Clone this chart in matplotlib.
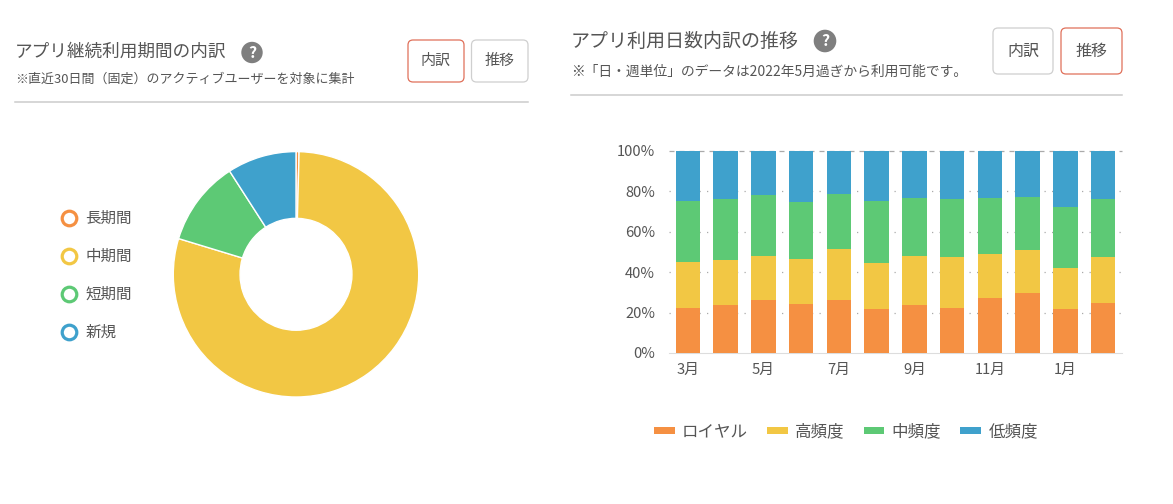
import matplotlib
matplotlib.use('Agg')
import matplotlib.pyplot as plt
from matplotlib.lines import Line2D
from matplotlib.patches import Circle, FancyBboxPatch, Patch
import numpy as np

plt.rcParams['font.family'] = ['Noto Sans CJK JP', 'DejaVu Sans']

W, H = 1173, 504
TEXT = '#555555'
ORANGE = '#F59042'
YELLOW = '#F2C744'
GREEN = '#5DC975'
BLUE = '#3FA1CC'
COLORS = [ORANGE, YELLOW, GREEN, BLUE]

# donut
donut_labels = ['長期間', '中期間', '短期間', '新規']
donut_values = [0.4, 79.3, 11.2, 9.1]

# stacked bars
months = ['3月', '4月', '5月', '6月', '7月', '8月', '9月', '10月', '11月', '12月', '1月', '2月']
bar_labels = ['ロイヤル', '高頻度', '中頻度', '低頻度']
royal = [22.3, 23.6, 26.0, 24.3, 26.0, 21.6, 23.6, 22.3, 27.2, 29.7, 21.6, 24.9]
high = [22.9, 22.6, 22.2, 22.1, 25.5, 22.8, 24.6, 25.2, 21.8, 21.1, 20.4, 22.8]
mid = [30.2, 29.9, 29.8, 28.5, 27.0, 31.0, 28.5, 28.6, 27.7, 26.6, 30.3, 28.4]
low = [24.6, 24.2, 22.0, 25.1, 21.5, 24.6, 23.3, 23.9, 23.3, 22.6, 27.7, 23.9]
y_ticks = [0, 20, 40, 60, 80, 100]


def px_axes(fig, left, top, right, bottom):
    # axes placed by picture pixels (y counted from the top)
    return fig.add_axes([left / W, 1 - bottom / H, (right - left) / W, (bottom - top) / H])


def button(ax, x0, y0, x1, y1, label, active, size):
    edge = '#E0705A' if active else '#CFCFCF'
    ax.add_patch(FancyBboxPatch((x0 + 4, y0 + 4), x1 - x0 - 8, y1 - y0 - 8,
                                boxstyle='round,pad=4,rounding_size=5',
                                fc='white', ec=edge, lw=0.9))
    ax.text((x0 + x1) / 2, (y0 + y1) / 2, label, ha='center', va='center',
            fontsize=size, color=TEXT)


def help_icon(ax, x, y, r):
    ax.add_patch(Circle((x, y), r, fc='#7F7F7F', ec='none'))
    ax.text(x, y, '?', ha='center', va='center', fontsize=11.5, color='white', fontweight='bold')


fig = plt.figure(figsize=(W / 100, H / 100), dpi=100, facecolor='white')

# --- cabeceras ---
ui = fig.add_axes([0, 0, 1, 1])
ui.set_xlim(0, W)
ui.set_ylim(H, 0)
ui.axis('off')

ui.text(15, 52, 'アプリ継続利用期間の内訳', fontsize=12.7, color=TEXT, va='center')
ui.text(15, 79.5, '※直近30日間（固定）のアクティブユーザーを対象に集計', fontsize=9.35, color=TEXT, va='center')
help_icon(ui, 252, 52.5, 10.7)
button(ui, 408, 40, 464, 82, '内訳', True, 10.8)
button(ui, 471.5, 40, 528, 82, '推移', False, 10.8)
ui.plot([15, 528], [102, 102], color='#CCCCCC', lw=1.1)

ui.text(571, 41, 'アプリ利用日数内訳の推移', fontsize=13.7, color=TEXT, va='center')
ui.text(571, 72, '※「日・週単位」のデータは2022年5月過ぎから利用可能です。', fontsize=9.95, color=TEXT, va='center')
help_icon(ui, 825, 41, 11.3)
button(ui, 993, 28, 1053, 74, '内訳', False, 11.5)
button(ui, 1061, 28, 1122, 74, '推移', True, 11.5)
ui.plot([571, 1122], [95, 95], color='#CCCCCC', lw=1.1)

# --- donut ---
ax1 = px_axes(fig, 173.3, 151.6, 418.7, 397)
wedges, _ = ax1.pie(donut_values, colors=COLORS, startangle=90, counterclock=False, radius=1,
                    wedgeprops={'width': 0.544, 'edgecolor': 'white', 'linewidth': 1})
ax1.set_xlim(-1, 1)
ax1.set_ylim(-1, 1)
for w in wedges:
    w.set_clip_on(False)

ring_handles = [Line2D([], [], ls='none', marker='o', ms=10.5, mfc='white', mec=c, mew=2.3, label=l)
                for c, l in zip(COLORS, donut_labels)]
fig.legend(handles=ring_handles, loc='center left', bbox_to_anchor=(59 / W, 1 - 275.5 / H),
           frameon=False, fontsize=11.2, labelcolor=TEXT, labelspacing=1.35,
           handlelength=1.3, handletextpad=0.38, borderpad=0, borderaxespad=0)

# --- barras apiladas ---
ax2 = px_axes(fig, 669, 151, 1122, 353)
x = np.arange(len(months))
bottom = np.zeros(len(months))
for vals, c, l in zip([royal, high, mid, low], COLORS, bar_labels):
    ax2.bar(x, vals, width=0.645, bottom=bottom, color=c, label=l, zorder=3)
    bottom += np.array(vals)

ax2.set_xlim(-0.5, len(months) - 0.5)
ax2.set_ylim(0, 100)
ax2.set_yticks(y_ticks, [f'{v}%' for v in y_ticks])
ax2.set_xticks(x[::2], months[::2])
ax2.tick_params(length=0, labelsize=10.6, labelcolor=TEXT)
ax2.tick_params(axis='y', pad=10)
ax2.tick_params(axis='x', pad=7)
for s in ['top', 'left', 'right']:
    ax2.spines[s].set_visible(False)
ax2.spines['bottom'].set_color('#DDDDDD')
for v in y_ticks[1:]:
    ax2.axhline(v, color='#AAAAAA', lw=0.9, zorder=1, clip_on=False,
                ls=(0, (4, 4)) if v == 100 else (0, (1, 5)))

bar_handles = [Patch(fc=c, label=l) for c, l in zip(COLORS, bar_labels)]
fig.legend(handles=bar_handles, loc='center', bbox_to_anchor=(846 / W, 1 - 432 / H), ncol=4,
           frameon=False, fontsize=11.9, labelcolor=TEXT, handlelength=1.25, handleheight=0.34,
           handletextpad=0.45, columnspacing=1.15, borderpad=0, borderaxespad=0)

fig.savefig('out.png', dpi=100)
